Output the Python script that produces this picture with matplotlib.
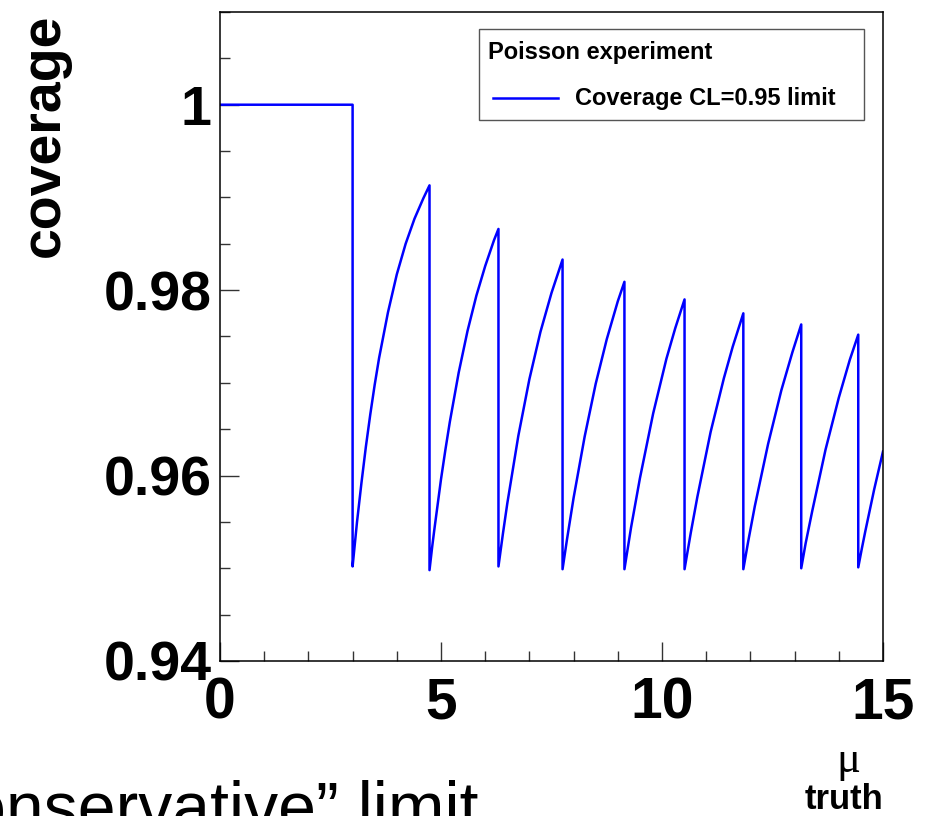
import matplotlib
matplotlib.use('Agg')
import matplotlib.pyplot as plt
from matplotlib.patches import Rectangle
from matplotlib.lines import Line2D
from matplotlib.ticker import MultipleLocator

plt.rcParams['font.family'] = ['Liberation Sans', 'DejaVu Sans']

# coverage of the CL=0.95 upper limit vs true mu
# one list per branch (flat part, then one saw tooth per observed n)
mu_flat = [0.0, 3.0]
cov_flat = [1.0, 1.0]
mu_n0 = [3.0, 3.05, 3.1, 3.2, 3.3, 3.4, 3.5, 3.6, 3.8, 4.0, 4.2, 4.4, 4.6, 4.74]
cov_n0 = [0.9502, 0.9526, 0.9550, 0.9592, 0.9631, 0.9666, 0.9698, 0.9727, 0.9776,
          0.9817, 0.9850, 0.9877, 0.9899, 0.9913]
mu_n1 = [4.74, 4.8, 4.85, 5.0, 5.1, 5.2, 5.4, 5.6, 5.8, 6.0, 6.2, 6.30]
cov_n1 = [0.9498, 0.9523, 0.9542, 0.9596, 0.9628, 0.9658, 0.9711, 0.9756, 0.9794,
          0.9826, 0.9854, 0.9866]
mu_n2 = [6.30, 6.4, 6.5, 6.75, 7.0, 7.25, 7.5, 7.75]
cov_n2 = [0.9502, 0.9537, 0.9570, 0.9643, 0.9704, 0.9755, 0.9797, 0.9833]
mu_n3 = [7.75, 7.85, 8.0, 8.25, 8.5, 8.75, 9.0, 9.15]
cov_n3 = [0.9499, 0.9531, 0.9576, 0.9642, 0.9699, 0.9747, 0.9788, 0.9809]
mu_n4 = [9.15, 9.3, 9.5, 9.8, 10.1, 10.3, 10.51]
cov_n4 = [0.9499, 0.9544, 0.9597, 0.9667, 0.9726, 0.9759, 0.9790]
mu_n5 = [10.51, 10.65, 10.8, 11.1, 11.4, 11.6, 11.84]
cov_n5 = [0.9499, 0.9538, 0.9577, 0.9647, 0.9705, 0.9739, 0.9775]
mu_n6 = [11.84, 11.95, 12.1, 12.4, 12.7, 12.95, 13.15]
cov_n6 = [0.9499, 0.9529, 0.9567, 0.9634, 0.9692, 0.9733, 0.9763]
mu_n7 = [13.15, 13.25, 13.4, 13.7, 14.0, 14.25, 14.44]
cov_n7 = [0.9500, 0.9527, 0.9562, 0.9628, 0.9684, 0.9725, 0.9752]
mu_n8 = [14.44, 14.52, 14.6, 14.8, 15.0]
cov_n8 = [0.9501, 0.9521, 0.9540, 0.9585, 0.9626]

x_ticks = [0, 5, 10, 15]
y_ticks = [0.94, 0.96, 0.98, 1.0]
y_tick_labels = ['0.94', '0.96', '0.98', '1']

branches = [(mu_flat, cov_flat), (mu_n0, cov_n0), (mu_n1, cov_n1), (mu_n2, cov_n2),
            (mu_n3, cov_n3), (mu_n4, cov_n4), (mu_n5, cov_n5), (mu_n6, cov_n6),
            (mu_n7, cov_n7), (mu_n8, cov_n8)]
mu = []
cov = []
for m, c in branches:
    mu += m
    cov += c

W, H = 940.0, 816.0
fig = plt.figure(figsize=(W / 100, H / 100), dpi=100)
ax = fig.add_axes([220 / W, 1 - 661 / H, (883 - 220) / W, (661 - 12) / H])

ax.plot(mu, cov, color='#0000ff', lw=1.8)

ax.set_xlim(0, 15)
ax.set_ylim(0.94, 1.01)
ax.set_xticks(x_ticks)
ax.set_xticklabels([str(t) for t in x_ticks])
ax.set_yticks(y_ticks)
ax.set_yticklabels(y_tick_labels)
ax.xaxis.set_minor_locator(MultipleLocator(1))
ax.yaxis.set_minor_locator(MultipleLocator(0.005))
ax.tick_params(which='both', direction='in', top=False, right=False, color='#333333', width=1)
ax.tick_params(which='major', length=14)
ax.tick_params(which='minor', length=7)
ax.tick_params(axis='x', which='major', pad=11, labelsize=41)
ax.tick_params(axis='y', which='major', pad=6, labelsize=40)
for lab in ax.get_xticklabels() + ax.get_yticklabels():
    lab.set_fontweight('bold')
for s in ax.spines.values():
    s.set_linewidth(1.1)

# axis titles, ROOT style
fig.text(45 / W, 1 - 14 / H, 'coverage', rotation=90, ha='center', va='top',
         fontsize=40, fontweight='bold')
fig.text(848 / W, 1 - 772 / H, '\u03bc', ha='center', va='baseline',
         fontsize=32, family=['Liberation Serif', 'DejaVu Serif'])
fig.text(883 / W, 1 - 809 / H, 'truth', ha='right', va='baseline',
         fontsize=25, fontweight='bold')

# legend box
fig.patches.append(Rectangle((479 / W, 1 - 120 / H), (864 - 479) / W, 91 / H,
                             transform=fig.transFigure, facecolor='white',
                             edgecolor='#555555', lw=1, zorder=5))
fig.text(488 / W, 1 - 53 / H, 'Poisson experiment', ha='left', va='center',
         fontsize=17, fontweight='bold', zorder=6)
fig.lines.append(Line2D([493 / W, 558 / W], [1 - 98 / H, 1 - 98 / H],
                        transform=fig.transFigure, color='#0000ff', lw=1.8, zorder=6))
fig.text(575 / W, 1 - 98 / H, 'Coverage CL=0.95 limit', ha='left', va='center',
         fontsize=17, fontweight='bold', zorder=6)

# slide text cut off at the bottom left
fig.text(478 / W, -13 / H, '\u201cConservative\u201d limit', ha='right', va='baseline',
         fontsize=49)

fig.savefig('out.png', dpi=100)
